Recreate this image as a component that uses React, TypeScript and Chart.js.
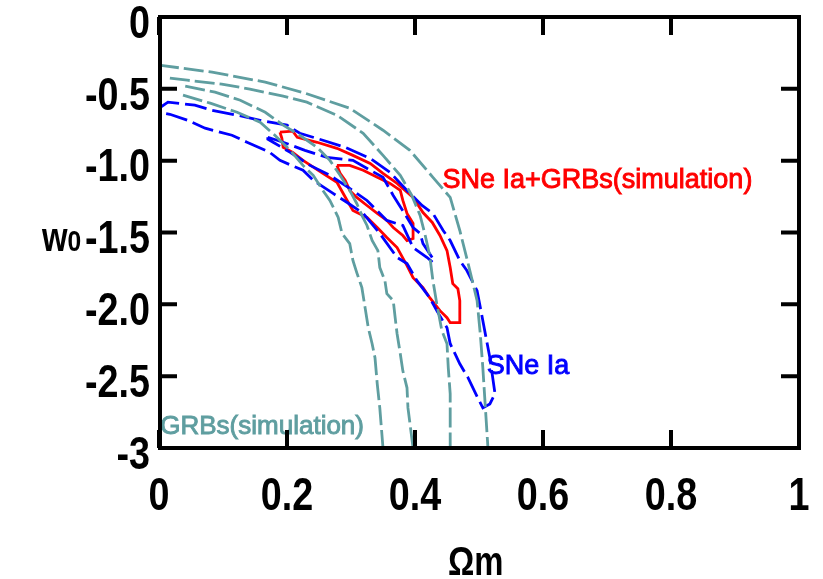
import React, { useEffect, useRef } from "react";
import { Chart, registerables } from "chart.js";

Chart.register(...registerables);

// Tick labels
const xTickLabels = ["0", "0.2", "0.4", "0.6", "0.8", "1"];
const yTickLabels = ["-3", "-2.5", "-2.0", "-1.5", "-1.0", "-0.5", "0"];

// GRBs (simulation) contour branches [Ωm, w0]
const grbOuterUpper: [number, number][] = [
  [0, -0.335], [0.083, -0.384], [0.166, -0.453], [0.228, -0.53], [0.298, -0.635],
  [0.35, -0.788], [0.392, -0.928], [0.428, -1.116], [0.455, -1.256], [0.47, -1.486],
  [0.483, -1.716], [0.497, -1.974], [0.502, -2.205], [0.506, -2.442], [0.514, -3.0],
];
const grbInnerUpper: [number, number][] = [
  [0.017, -0.426], [0.044, -0.44], [0.098, -0.467], [0.142, -0.502], [0.194, -0.551],
  [0.231, -0.593], [0.278, -0.684], [0.319, -0.809], [0.35, -0.963], [0.377, -1.102],
  [0.395, -1.242], [0.408, -1.381], [0.416, -1.521], [0.423, -1.661], [0.428, -1.835],
  [0.434, -1.995], [0.442, -2.184], [0.45, -2.274], [0.452, -2.442], [0.455, -2.623],
  [0.455, -3.0],
];
const grbInnerLower: [number, number][] = [
  [0.041, -0.481], [0.0875, -0.523], [0.127, -0.579], [0.166, -0.663], [0.194, -0.753],
  [0.22, -0.823], [0.247, -0.907], [0.267, -0.998], [0.283, -1.102], [0.298, -1.207],
  [0.309, -1.298], [0.317, -1.381], [0.325, -1.451], [0.333, -1.556], [0.342, -1.626],
  [0.345, -1.744], [0.353, -1.835], [0.356, -1.926], [0.366, -1.974], [0.369, -2.093],
  [0.372, -2.205], [0.377, -2.344], [0.381, -2.463], [0.3875, -2.581], [0.389, -2.721],
  [0.397, -3.0],
];
const grbOuterLower: [number, number][] = [
  [0.0375, -0.544], [0.08, -0.6], [0.122, -0.663], [0.158, -0.733], [0.181, -0.823],
  [0.205, -0.928], [0.225, -1.033], [0.241, -1.102], [0.256, -1.207], [0.267, -1.277],
  [0.28, -1.395], [0.286, -1.507], [0.298, -1.577], [0.303, -1.695], [0.309, -1.779],
  [0.317, -1.884], [0.322, -2.023], [0.327, -2.163], [0.333, -2.274], [0.3375, -2.372],
  [0.341, -2.554], [0.345, -2.721], [0.35, -3.0],
];

// SNe Ia contours
const snOuter: [number, number][] = [
  [0, -0.635], [0.014, -0.593], [0.056, -0.614], [0.083, -0.649], [0.123, -0.684],
  [0.158, -0.719], [0.2, -0.753], [0.22, -0.809], [0.256, -0.858], [0.291, -0.907],
  [0.33, -0.984], [0.361, -1.081], [0.3875, -1.207], [0.411, -1.312], [0.428, -1.367],
  [0.444, -1.486], [0.455, -1.556], [0.47, -1.695], [0.481, -1.765], [0.497, -1.905],
  [0.506, -2.114], [0.517, -2.372], [0.525, -2.623], [0.517, -2.693], [0.506, -2.721],
  [0.498, -2.651], [0.483, -2.512], [0.47, -2.414], [0.455, -2.274], [0.45, -2.163],
  [0.434, -2.044], [0.423, -1.954], [0.403, -1.835], [0.3875, -1.716], [0.372, -1.674],
  [0.345, -1.507], [0.319, -1.367], [0.294, -1.291], [0.272, -1.228], [0.241, -1.137],
  [0.225, -1.067], [0.189, -0.998], [0.173, -0.942], [0.1375, -0.872], [0.114, -0.823],
  [0.072, -0.774], [0.045, -0.719], [0.017, -0.677], [0, -0.663],
];
const snInner: [number, number][] = [
  [0.17, -0.837], [0.194, -0.872], [0.228, -0.928], [0.2625, -0.977], [0.303, -0.998],
  [0.35, -1.116], [0.366, -1.242], [0.3875, -1.395], [0.397, -1.465], [0.408, -1.507],
  [0.4125, -1.577], [0.428, -1.681], [0.428, -1.709], [0.419, -1.674], [0.397, -1.605],
  [0.381, -1.451], [0.356, -1.416], [0.325, -1.277], [0.298, -1.193], [0.267, -1.102],
  [0.236, -1.033], [0.205, -0.942], [0.181, -0.879], [0.17, -0.851], [0.17, -0.837],
];

// SNe Ia + GRBs (simulation) contours
const combOuter: [number, number][] = [
  [0.189, -0.802], [0.209, -0.795], [0.216, -0.837], [0.247, -0.872], [0.278, -0.914],
  [0.303, -0.963], [0.33, -1.019], [0.35, -1.088], [0.372, -1.158], [0.397, -1.256],
  [0.4125, -1.361], [0.427, -1.43], [0.439, -1.521], [0.45, -1.626], [0.455, -1.744],
  [0.459, -1.856], [0.467, -1.891], [0.47, -1.974], [0.47, -2.128], [0.455, -2.128],
  [0.45, -2.093], [0.439, -2.044], [0.423, -1.954], [0.4125, -1.884], [0.397, -1.814],
  [0.3875, -1.73], [0.372, -1.605], [0.356, -1.535], [0.341, -1.465], [0.325, -1.395],
  [0.303, -1.347], [0.294, -1.277], [0.278, -1.151], [0.256, -1.088], [0.225, -0.998],
  [0.209, -0.942], [0.194, -0.907], [0.192, -0.844], [0.189, -0.802],
];
const combInner: [number, number][] = [
  [0.278, -1.033], [0.298, -1.033], [0.319, -1.067], [0.341, -1.116], [0.361, -1.158],
  [0.377, -1.207], [0.381, -1.277], [0.3875, -1.367], [0.397, -1.437], [0.397, -1.542],
  [0.3875, -1.556], [0.381, -1.521], [0.366, -1.465], [0.356, -1.416], [0.341, -1.367],
  [0.325, -1.312], [0.309, -1.256], [0.298, -1.207], [0.291, -1.137], [0.283, -1.088],
  [0.278, -1.033],
];

const TEAL = "#5F9EA0";
const BLUE = "#0000FF";
const RED = "#FF0000";
const SANS = "'Liberation Sans', Arial, sans-serif";
const SQUEEZE = 0.82;

const toPts = (arr: [number, number][]) => arr.map(([x, y]) => ({ x, y }));

const line = (data: [number, number][], color: string, dash: number[]) => ({
  data: toPts(data),
  showLine: true,
  borderColor: color,
  backgroundColor: color,
  borderWidth: 2.8,
  borderDash: dash,
  pointRadius: 0,
  pointHoverRadius: 0,
  tension: 0,
  fill: false,
});

// condensed bold text (narrow face emulated by horizontal scaling)
const narrowText = (ctx: any, text: string, x: number, y: number, size: number, align: string) => {
  ctx.save();
  ctx.translate(x, y);
  ctx.scale(SQUEEZE, 1);
  ctx.font = `bold ${size}px ${SANS}`;
  ctx.textAlign = align;
  ctx.fillText(text, 0, 0);
  ctx.restore();
};

const heavyText = (ctx: any, text: string, x: number, y: number, color: string) => {
  ctx.fillStyle = color;
  ctx.strokeStyle = color;
  ctx.lineWidth = 0.9;
  ctx.fillText(text, x, y);
  ctx.strokeText(text, x, y);
};

const framePlugin = {
  id: "frame",
  afterDraw(chart: any) {
    const { ctx, chartArea: a, scales } = chart;
    const xs = scales.x;
    const ys = scales.y;
    ctx.save();
    // annotations
    ctx.textBaseline = "middle";
    ctx.textAlign = "left";
    ctx.font = `27px ${SANS}`;
    heavyText(ctx, "SNe Ia+GRBs(simulation)", xs.getPixelForValue(0.443), ys.getPixelForValue(-1.14), RED);
    heavyText(ctx, "SNe Ia", xs.getPixelForValue(0.512), ys.getPixelForValue(-2.43), BLUE);
    ctx.font = `26px ${SANS}`;
    heavyText(ctx, "GRBs(simulation)", xs.getPixelForValue(0.002), ys.getPixelForValue(-2.855), TEAL);

    // frame
    ctx.strokeStyle = "#000";
    ctx.lineWidth = 4;
    ctx.lineCap = "butt";
    ctx.strokeRect(a.left + 1, a.top, a.right - a.left - 1, a.bottom - a.top);
    const L = 18;
    ctx.beginPath();
    xs.ticks.forEach((t: any) => {
      const px = xs.getPixelForValue(t.value);
      ctx.moveTo(px, a.bottom);
      ctx.lineTo(px, a.bottom - L);
      ctx.moveTo(px, a.top);
      ctx.lineTo(px, a.top + L);
    });
    ys.ticks.forEach((t: any) => {
      const py = ys.getPixelForValue(t.value);
      ctx.moveTo(a.left, py);
      ctx.lineTo(a.left + L, py);
      ctx.moveTo(a.right, py);
      ctx.lineTo(a.right - L, py);
    });
    ctx.stroke();

    // tick labels (positions from the chart's scales)
    ctx.fillStyle = "#000";
    ctx.textBaseline = "middle";
    xs.ticks.forEach((t: any, i: number) => {
      narrowText(ctx, xTickLabels[i], xs.getPixelForValue(t.value), a.bottom + 49, 46, "center");
    });
    ys.ticks.forEach((t: any, i: number) => {
      narrowText(ctx, yTickLabels[i], a.left - 9, ys.getPixelForValue(t.value) + 8, 46, "right");
    });

    // axis titles
    ctx.textBaseline = "alphabetic";
    narrowText(ctx, "w", 42, 251, 40, "left");
    narrowText(ctx, "0", 42 + 0.778 * 40 * SQUEEZE, 251, 30, "left");
    narrowText(ctx, "Ωm", 448, 575, 40, "left");
    ctx.restore();
  },
};

export default function App() {
  const ref = useRef<HTMLCanvasElement>(null);
  useEffect(() => {
    if (!ref.current) return;
    const chart = new Chart(ref.current, {
      type: "scatter",
      data: {
        datasets: [
          line(grbOuterUpper, TEAL, [20, 5]),
          line(grbInnerUpper, TEAL, [20, 5]),
          line(grbInnerLower, TEAL, [20, 5]),
          line(grbOuterLower, TEAL, [20, 5]),
          line(snOuter, BLUE, [22, 6]),
          line(snInner, BLUE, [22, 6]),
          line(combOuter, RED, []),
          line(combInner, RED, []),
        ] as any,
      },
      options: {
        animation: false,
        responsive: true,
        maintainAspectRatio: false,
        layout: { padding: { left: 0, top: 17, right: 24, bottom: 0 } },
        plugins: { legend: { display: false }, tooltip: { enabled: false } },
        events: [],
        scales: {
          x: {
            type: "linear",
            min: 0,
            max: 1,
            grid: { display: false, drawTicks: false },
            border: { display: false },
            ticks: { stepSize: 0.2, display: false, autoSkip: false },
            afterFit: (s: any) => {
              s.height = 131;
              s.paddingLeft = 0;
              s.paddingRight = 0;
            },
          },
          y: {
            type: "linear",
            min: -3,
            max: 0,
            grid: { display: false, drawTicks: false },
            border: { display: false },
            ticks: { stepSize: 0.5, display: false, autoSkip: false },
            afterFit: (s: any) => {
              s.width = 159;
              s.paddingTop = 0;
              s.paddingBottom = 0;
            },
          },
        },
      },
      plugins: [framePlugin],
    });
    return () => chart.destroy();
  }, []);
  return (
    <div style={{ position: "fixed", left: 0, top: 0, width: 823, height: 579, background: "#fff" }}>
      <canvas ref={ref} />
    </div>
  );
}
